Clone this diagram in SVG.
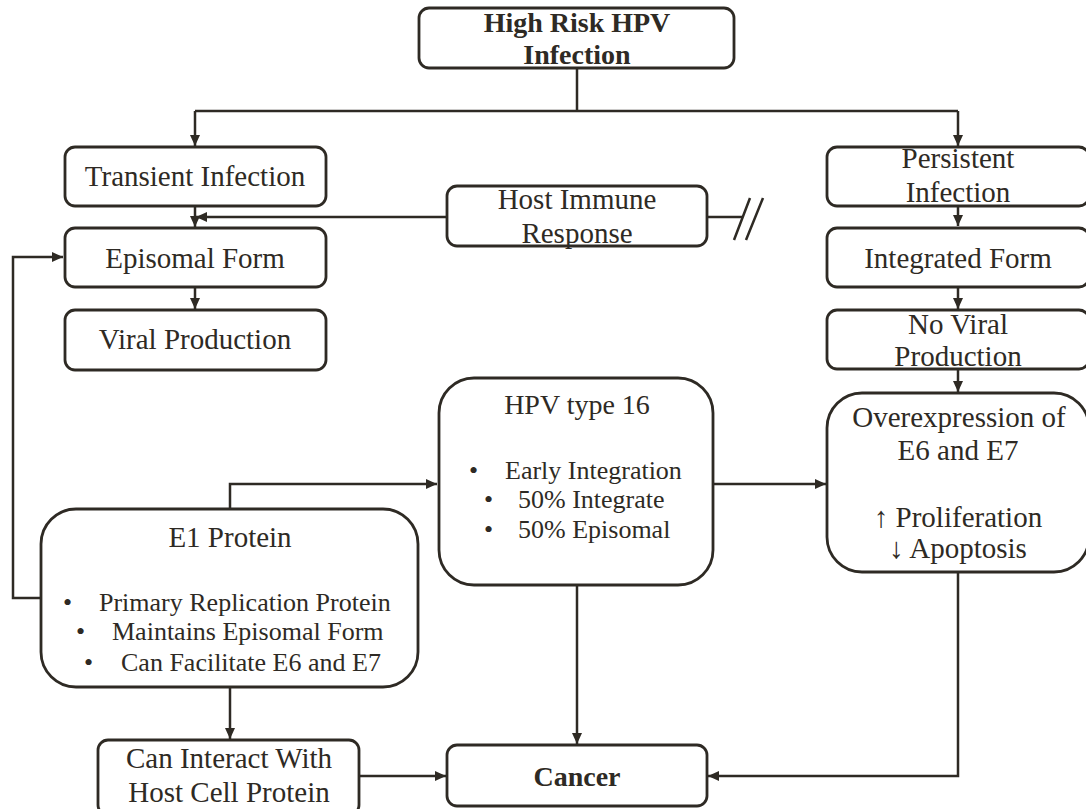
<svg xmlns="http://www.w3.org/2000/svg" width="1086" height="809" viewBox="0 0 1086 809">
<style>
.box{fill:#fff;stroke:#2e2a24;stroke-width:2.8}
.t{font-family:"Liberation Serif","Times New Roman",serif;font-size:29px;fill:#2e2a24;text-anchor:middle}
.b{font-weight:bold;font-size:28px}
.s{font-size:26px;text-anchor:start}
.c{fill:none;stroke:#2e2a24;stroke-width:2.5}
</style>
<defs>
<marker id="ah" markerUnits="userSpaceOnUse" markerWidth="12" markerHeight="10" refX="11" refY="5" orient="auto">
<path d="M0,0 L11,5 L0,10 Z" fill="#2e2a24"/>
</marker>
</defs>
<rect width="1086" height="809" fill="#fff"/>
<g id="connectors">
<path class="c" d="M577,68 V111 M195,111 H958"/>
<path class="c" d="M195,111 V146" marker-end="url(#ah)"/>
<path class="c" d="M958,111 V146" marker-end="url(#ah)"/>
<path class="c" d="M195,206 V227" marker-end="url(#ah)"/>
<path class="c" d="M447,217 H196" marker-end="url(#ah)"/>
<path class="c" d="M707,217 H742"/>
<path class="c" d="M734,240 L750,198 M746,240 L763,198"/>
<path class="c" d="M195,287 V309" marker-end="url(#ah)"/>
<path class="c" d="M958,205 V226" marker-end="url(#ah)"/>
<path class="c" d="M958,287 V309" marker-end="url(#ah)"/>
<path class="c" d="M958,369 V392" marker-end="url(#ah)"/>
<path class="c" d="M41,598 H13 V257 H63" marker-end="url(#ah)"/>
<path class="c" d="M230,509 V484 H437" marker-end="url(#ah)"/>
<path class="c" d="M713,484 H826" marker-end="url(#ah)"/>
<path class="c" d="M577,585 V744" marker-end="url(#ah)"/>
<path class="c" d="M230,687 V739" marker-end="url(#ah)"/>
<path class="c" d="M359,776 H446" marker-end="url(#ah)"/>
<path class="c" d="M958,572 V776 H708" marker-end="url(#ah)"/>
</g>
<g id="n-top">
<rect class="box" x="419" y="8" width="315" height="60" rx="10"/>
<text class="t b" x="577" y="32">High Risk HPV</text>
<text class="t b" x="577" y="64">Infection</text>
</g>
<g id="n-transient">
<rect class="box" x="65" y="147" width="261" height="59" rx="10"/>
<text class="t" x="195" y="186">Transient Infection</text>
</g>
<g id="n-host">
<rect class="box" x="447" y="186" width="260" height="60" rx="10"/>
<text class="t" x="577" y="209">Host Immune</text>
<text class="t" x="577" y="243">Response</text>
</g>
<g id="n-persistent">
<rect class="box" x="827" y="147" width="262" height="59" rx="10"/>
<text class="t" x="958" y="168">Persistent</text>
<text class="t" x="958" y="202">Infection</text>
</g>
<g id="n-episomal">
<rect class="box" x="65" y="228" width="261" height="59" rx="10"/>
<text class="t" x="195" y="268">Episomal Form</text>
</g>
<g id="n-integrated">
<rect class="box" x="827" y="228" width="262" height="59" rx="10"/>
<text class="t" x="958" y="268">Integrated Form</text>
</g>
<g id="n-viral">
<rect class="box" x="65" y="310" width="261" height="60" rx="10"/>
<text class="t" x="195" y="349">Viral Production</text>
</g>
<g id="n-noviral">
<rect class="box" x="827" y="310" width="262" height="59" rx="10"/>
<text class="t" x="958" y="334">No Viral</text>
<text class="t" x="958" y="366">Production</text>
</g>
<g id="n-hpv16">
<rect class="box" x="439" y="378" width="274" height="207" rx="35"/>
<text class="t" x="577" y="414" style="font-size:28px">HPV type 16</text>
<text class="t s" x="469" y="479">•</text>
<text class="t s" x="505" y="479">Early Integration</text>
<text class="t s" x="484" y="508">•</text>
<text class="t s" x="518" y="508">50% Integrate</text>
<text class="t s" x="484" y="538">•</text>
<text class="t s" x="518" y="538">50% Episomal</text>
</g>
<g id="n-overexpression">
<rect class="box" x="827" y="393" width="262" height="179" rx="35"/>
<text class="t" x="959" y="427">Overexpression of</text>
<text class="t" x="958" y="460">E6 and E7</text>
<text class="t" x="958" y="527">↑ Proliferation</text>
<text class="t" x="958" y="558">↓ Apoptosis</text>
</g>
<g id="n-e1">
<rect class="box" x="41" y="509" width="377" height="178" rx="35"/>
<text class="t" x="230" y="547">E1 Protein</text>
<text class="t s" x="63" y="611">•</text>
<text class="t s" x="99" y="611">Primary Replication Protein</text>
<text class="t s" x="76" y="640">•</text>
<text class="t s" x="112" y="640">Maintains Episomal Form</text>
<text class="t s" x="84" y="671">•</text>
<text class="t s" x="121" y="671">Can Facilitate E6 and E7</text>
</g>
<g id="n-interact">
<rect class="box" x="98" y="740" width="261" height="75" rx="10"/>
<text class="t" x="229" y="768">Can Interact With</text>
<text class="t" x="229" y="802">Host Cell Protein</text>
</g>
<g id="n-cancer">
<rect class="box" x="447" y="745" width="260" height="61" rx="10"/>
<text class="t b" x="577" y="786">Cancer</text>
</g>
</svg>
